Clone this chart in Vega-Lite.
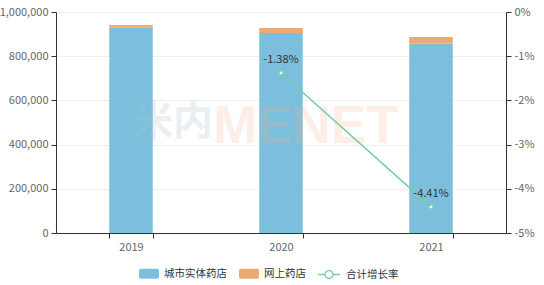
{
  "$schema": "https://vega.github.io/schema/vega-lite/v6.json",
  "autosize": {"type": "none"},
  "padding": {"left": 56, "top": 12, "right": 38, "bottom": 52},
  "width": 450,
  "height": 221,
  "background": "white",
  "config": {
    "view": {"stroke": null},
    "font": "Noto Sans CJK SC",
    "axis": {"labelFont": "Noto Sans CJK SC", "labelFontSize": 11, "labelColor": "#666666", "domainColor": "#333333", "tickColor": "#333333", "tickSize": 5, "title": null}
  },
  "datasets": {
    "bars": [
      {"year": "2019", "type": "城市实体药店", "value": 929000, "ord": 1},
      {"year": "2019", "type": "网上药店", "value": 12000, "ord": 2},
      {"year": "2020", "type": "城市实体药店", "value": 905000, "ord": 1},
      {"year": "2020", "type": "网上药店", "value": 23000, "ord": 2},
      {"year": "2021", "type": "城市实体药店", "value": 857000, "ord": 1},
      {"year": "2021", "type": "网上药店", "value": 30100, "ord": 2}
    ],
    "growth": [
      {"year": "2020", "rate": -1.38, "label": "-1.38%"},
      {"year": "2021", "rate": -4.41, "label": "-4.41%"}
    ]
  },
  "encoding": {
    "x": {
      "field": "year", "type": "nominal",
      "scale": {"domain": ["2019", "2020", "2021"], "paddingInner": 0.71, "paddingOuter": 0.355},
      "axis": {"tickBand": "extent", "labelAngle": 0, "labelPadding": 3, "grid": false}
    }
  },
  "layer": [
    {
      "layer": [
        {
          "data": {"name": "bars"},
          "mark": {"type": "bar"},
          "encoding": {
            "y": {
              "field": "value", "type": "quantitative", "stack": "zero",
              "scale": {"domain": [0, 1000000], "nice": false},
              "axis": {"values": [0, 200000, 400000, 600000, 800000, 1000000], "format": ",.0f", "grid": true, "gridColor": "#eeeeee", "labelPadding": 3}
            },
            "order": {"field": "ord"},
            "color": {
              "field": "type", "type": "nominal",
              "scale": {"domain": ["城市实体药店", "网上药店"], "range": ["#7cbfdd", "#e9ab71"]},
              "legend": {
                "title": null, "orient": "none", "direction": "horizontal",
                "legendX": 83, "legendY": 251.5,
                "symbolType": "M-0.8,-0.5H0.8A0.2,0.2 0 0 1 1,-0.3V0.3A0.2,0.2 0 0 1 0.8,0.5H-0.8A0.2,0.2 0 0 1 -1,0.3V-0.3A0.2,0.2 0 0 1 -0.8,-0.5Z",
                "symbolSize": 400, "symbolStrokeWidth": 0, "symbolOpacity": 1,
                "labelFontSize": 10.5, "labelColor": "#333333", "labelFont": "Noto Sans CJK SC",
                "labelOffset": 5, "columnPadding": 12
              }
            }
          }
        },
        {
          "data": {"values": [{"w": "米内"}]},
          "mark": {"type": "text", "font": "Noto Sans CJK SC", "fontWeight": "bold", "fontSize": 40, "color": "#a9c3d2", "opacity": 0.25, "align": "right", "baseline": "middle", "dx": -68},
          "encoding": {"x": {"datum": "2020"}, "y": {"datum": 500000}, "text": {"field": "w"}}
        },
        {
          "data": {"values": [{"w": "MENET"}]},
          "mark": {"type": "text", "font": "Liberation Sans", "fontWeight": "bold", "fontSize": 53, "color": "#f6b58c", "opacity": 0.2, "align": "left", "baseline": "middle", "dx": -68, "dy": 4},
          "encoding": {"x": {"datum": "2020"}, "y": {"datum": 500000}, "text": {"field": "w"}}
        }
      ]
    },
    {
      "data": {"name": "growth"},
      "encoding": {
        "y": {
          "field": "rate", "type": "quantitative",
          "scale": {"domain": [-5, 0], "nice": false},
          "axis": {"orient": "right", "values": [-5, -4, -3, -2, -1, 0], "labelExpr": "datum.value + '%'", "grid": false, "labelPadding": 3}
        }
      },
      "layer": [
        {
          "mark": {"type": "line", "strokeWidth": 1.5},
          "encoding": {
            "stroke": {
              "datum": "合计增长率",
              "scale": {"range": ["#73cda3"]},
              "legend": {
                "title": null, "orient": "none", "direction": "horizontal",
                "legendX": 261, "legendY": 250.5,
                "symbolType": "M-1,0H-0.36M0.36,0H1M0.36,0A0.36,0.36 0 1 1 -0.36,0A0.36,0.36 0 1 1 0.36,0Z",
                "symbolSize": 484, "symbolStrokeWidth": 1.3, "symbolFillColor": "white", "symbolStrokeColor": "#73cda3",
                "labelFontSize": 10.5, "labelColor": "#333333", "labelFont": "Noto Sans CJK SC", "labelOffset": 5
              }
            }
          }
        },
        {
          "mark": {"type": "point", "filled": true, "fill": "white", "stroke": "#73cda3", "strokeWidth": 1, "size": 16, "opacity": 1}
        },
        {
          "mark": {"type": "text", "dy": -13, "fontSize": 11, "color": "#333333", "font": "Noto Sans CJK SC"},
          "encoding": {"text": {"field": "label"}}
        }
      ]
    }
  ],
  "resolve": {"scale": {"y": "independent"}, "axis": {"y": "independent"}}
}
